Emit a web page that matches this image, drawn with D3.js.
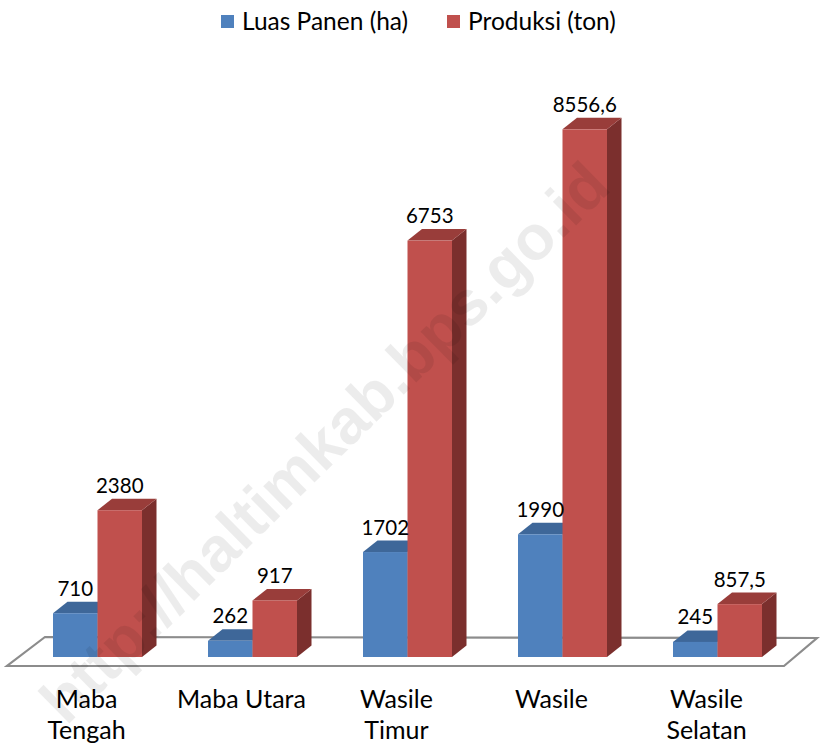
<!DOCTYPE html>
<html>
	<head>
		<meta charset="utf-8">
		<title>Luas Panen dan Produksi</title>
		<style>
			body {
			  margin: 0;
			  background: #fff;
			  overflow: hidden;
			}
			svg {
			  position: absolute;
			  font-family: Lato, "Open Sans", sans-serif;
			}
		</style>
		<script src="https://d3js.org/d3.v7.min.js" charset="utf-8"></script>
	</head>
	<body>
		<script>

		// data
		var categories = [["Maba", "Tengah"], ["Maba Utara"], ["Wasile", "Timur"], ["Wasile"], ["Wasile", "Selatan"]];
		var luasPanen = [710, 262, 1702, 1990, 245];
		var produksi = [2380, 917, 6753, 8556.6, 857.5];
		var seriesNames = ["Luas Panen (ha)", "Produksi (ton)"];

		var w = 820,
			h = 746;

		var colors = [
			{front: "#4f81bd", top: "#3e6799", side: "#385d8a"},
			{front: "#c0504d", top: "#993d3a", side: "#7b2f2d"}
		];

		var svg = d3.select("body").append("svg")
			.attr("width", w)
			.attr("height", h);

		var keys = categories.map(function(c){ return c.join(" "); });

		var x = d3.scaleBand()
			.domain(keys)
			.range([20, 795]);

		var barW = 44.5;
		var xs = d3.scaleBand()
			.domain([0, 1])
			.range([x.bandwidth()/2 - barW, x.bandwidth()/2 + barW]);

		var y = d3.scaleLinear()
			.domain([0, 9000])
			.range([657, 102]);

		var dx = 14.5, dy = -11.5;

		// floor
		var y0 = y(0);
		var floor = [
			[7, y0 + 9], [784, y0 + 9],
			[817, y0 - 19], [45, y0 - 20]
		];
		svg.append("polygon")
			.attr("points", floor.map(function(p){ return p.join(","); }).join(" "))
			.attr("fill", "#fff")
			.attr("stroke", "#8c8c8c")
			.attr("stroke-width", 2.2);

		var fmt = d3.formatLocale({decimal: ",", thousands: ".", grouping: [3], currency: ["", ""]}).format("~f");

		var rows = keys.map(function(k, i){
			return {key: k, vals: [luasPanen[i], produksi[i]]};
		});

		var groups = svg.selectAll("g.cat")
			.data(rows)
			.enter().append("g")
			.attr("class", "cat")
			.attr("transform", function(d){ return "translate(" + x(d.key) + ",0)"; });

		groups.each(function(d){
			var g = d3.select(this);
			d.vals.forEach(function(v, s){
				var x1 = xs(s), x2 = x1 + barW, yt = y(v), yb = y0;
				var c = colors[s];
				// side
				g.append("path")
					.attr("d", "M" + x2 + "," + yb + "L" + (x2 + dx) + "," + (yb + dy) +
						"L" + (x2 + dx) + "," + (yt + dy) + "L" + x2 + "," + yt + "Z")
					.attr("fill", c.side);
				// top
				g.append("path")
					.attr("d", "M" + x1 + "," + yt + "L" + (x1 + dx) + "," + (yt + dy) +
						"L" + (x2 + dx) + "," + (yt + dy) + "L" + x2 + "," + yt + "Z")
					.attr("fill", c.top);
				// front
				g.append("rect")
					.attr("x", x1)
					.attr("y", yt)
					.attr("width", barW)
					.attr("height", yb - yt)
					.attr("fill", c.front);
			});
		});

		// value labels, drawn after all bars
		groups.each(function(d){
			var g = d3.select(this);
			d.vals.forEach(function(v, s){
				g.append("text")
					.attr("x", xs(s) + barW/2)
					.attr("y", y(v) + dy - 6)
					.attr("text-anchor", "middle")
					.attr("font-size", "20.5px")
					.attr("fill", "#000")
					.text(fmt(v));
			});
		});

		// category labels
		groups.append("text")
			.attr("text-anchor", "middle")
			.attr("font-size", "25px")
			.attr("fill", "#000")
			.selectAll("tspan")
			.data(function(d, i){ return categories[i]; })
			.enter().append("tspan")
			.attr("x", x.bandwidth()/2 - 11)
			.attr("y", function(t, j){ return 708 + j * 31; })
			.text(function(t){ return t; });

		// legend
		var legX = [221, 447];
		var leg = svg.selectAll("g.leg")
			.data(seriesNames)
			.enter().append("g")
			.attr("class", "leg")
			.attr("transform", function(d, i){ return "translate(" + legX[i] + ",0)"; });
		leg.append("rect")
			.attr("x", 0).attr("y", 15)
			.attr("width", 13).attr("height", 13)
			.attr("fill", function(d, i){ return colors[i].front; });
		leg.append("text")
			.attr("x", 21).attr("y", 30)
			.attr("font-size", "24.5px")
			.attr("fill", "#000")
			.text(function(d){ return d; });

		// watermark
		svg.append("text")
			.attr("transform", "translate(328,446) rotate(-44.5)")
			.attr("text-anchor", "middle")
			.attr("dominant-baseline", "middle")
			.attr("font-family", "'Liberation Sans', Arial, sans-serif")
			.attr("font-weight", "bold")
			.attr("font-size", "63px")
			.attr("fill", "rgba(0,0,0,0.075)")
			.text("http://haltimkab.bps.go.id");

		</script>
	</body>
</html>
